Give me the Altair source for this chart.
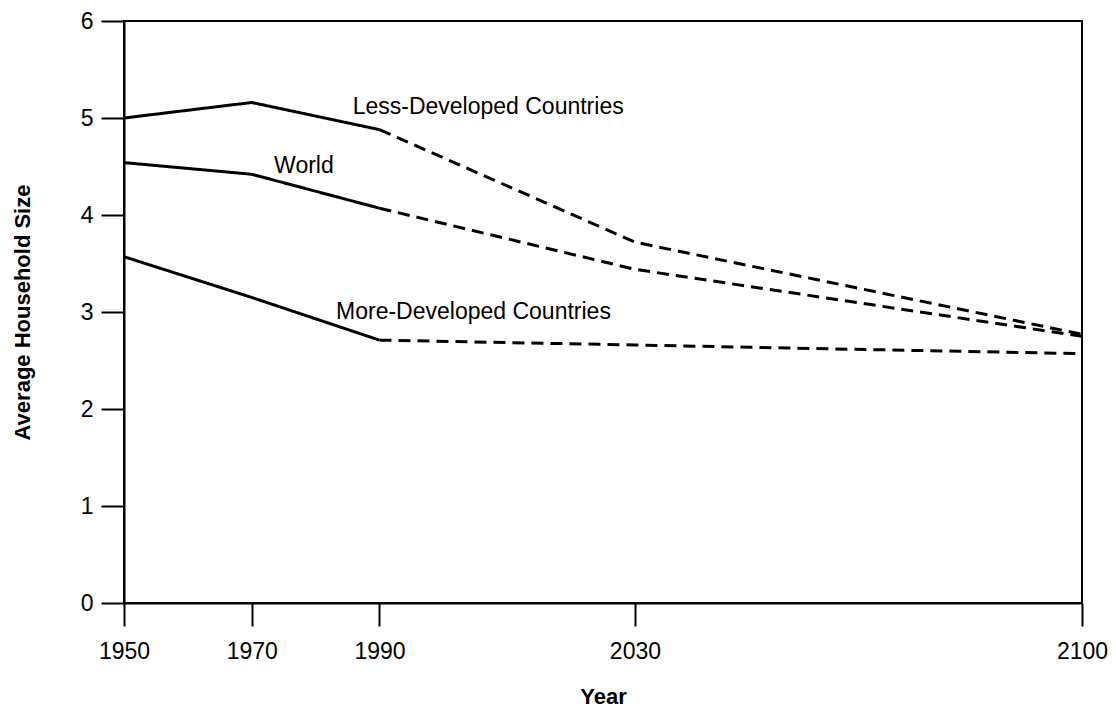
import altair as alt
import pandas as pd

# Data
years = [1950, 1970, 1990, 2030, 2100]
ldc = [5.0, 5.16, 4.88, 3.72, 2.77]
world = [4.54, 4.42, 4.07, 3.44, 2.75]
mdc = [3.57, 3.15, 2.71, 2.66, 2.57]
series_names = ["Less-Developed Countries", "World", "More-Developed Countries"]
observed_until = 1990

# Label annotations (anchor year, anchor value)
label_text = ["Less-Developed Countries", "World", "More-Developed Countries"]
label_year = [1985.8, 1973.5, 1983.2]
label_value = [5.11, 4.51, 3.0]

rows = []
for name, vals in zip(series_names, [ldc, world, mdc]):
    for yr, v in zip(years, vals):
        if yr <= observed_until:
            rows.append({"series": name, "segment": "observed", "year": yr, "value": v})
        if yr >= observed_until:
            rows.append({"series": name, "segment": "projected", "year": yr, "value": v})
df = pd.DataFrame(rows)
df["key"] = df["series"] + "|" + df["segment"]

labels = pd.DataFrame({"text": label_text, "year": label_year, "value": label_value})

FONT = "Liberation Sans"
W, H = 958, 582

x_enc = alt.X(
    "year:Q",
    scale=alt.Scale(domain=[1950, 2100], nice=False, zero=False),
    axis=alt.Axis(
        values=years, format="d", title="Year", grid=False,
        tickSize=23, labelPadding=14, labelFlush=False, labelOverlap=False,
        titleX=W / 2, titleY=93, titleBaseline="middle", titleAlign="center",
        labelFont=FONT, labelFontSize=23, labelColor="black",
        titleFont=FONT, titleFontSize=22, titleFontWeight="bold", titleColor="black",
        domainColor="black", domainWidth=2, tickColor="black", tickWidth=2,
    ),
)
y_enc = alt.Y(
    "value:Q",
    scale=alt.Scale(domain=[0, 6], nice=False),
    axis=alt.Axis(
        values=[0, 1, 2, 3, 4, 5, 6], format="d", title="Average Household Size", grid=False,
        tickSize=23, labelPadding=8,
        titleX=-102, titleY=H / 2, titleAngle=-90, titleBaseline="middle", titleAlign="center",
        labelFont=FONT, labelFontSize=23, labelColor="black",
        titleFont=FONT, titleFontSize=22, titleFontWeight="bold", titleColor="black",
        domainColor="black", domainWidth=2, tickColor="black", tickWidth=2,
    ),
)

lines = alt.Chart(df).mark_line(color="black", strokeWidth=3).encode(
    x=x_enc,
    y=y_enc,
    detail="key:N",
    strokeDash=alt.StrokeDash(
        "segment:N",
        scale=alt.Scale(domain=["observed", "projected"], range=[[1, 0], [12, 7]]),
        legend=None,
    ),
)

text = alt.Chart(labels).mark_text(
    align="left", baseline="middle", fontSize=23, font=FONT, color="black"
).encode(x="year:Q", y="value:Q", text="text:N")

chart = (
    alt.layer(lines, text)
    .properties(
        width=W,
        height=H,
        autosize=alt.AutoSizeParams(type="none"),
        padding={"left": 116, "top": 13, "right": 26, "bottom": 104},
        background="white",
    )
    .configure_view(stroke="black", strokeWidth=2)
)

chart.save("out.html", embed_options={"renderer": "svg", "actions": False})
